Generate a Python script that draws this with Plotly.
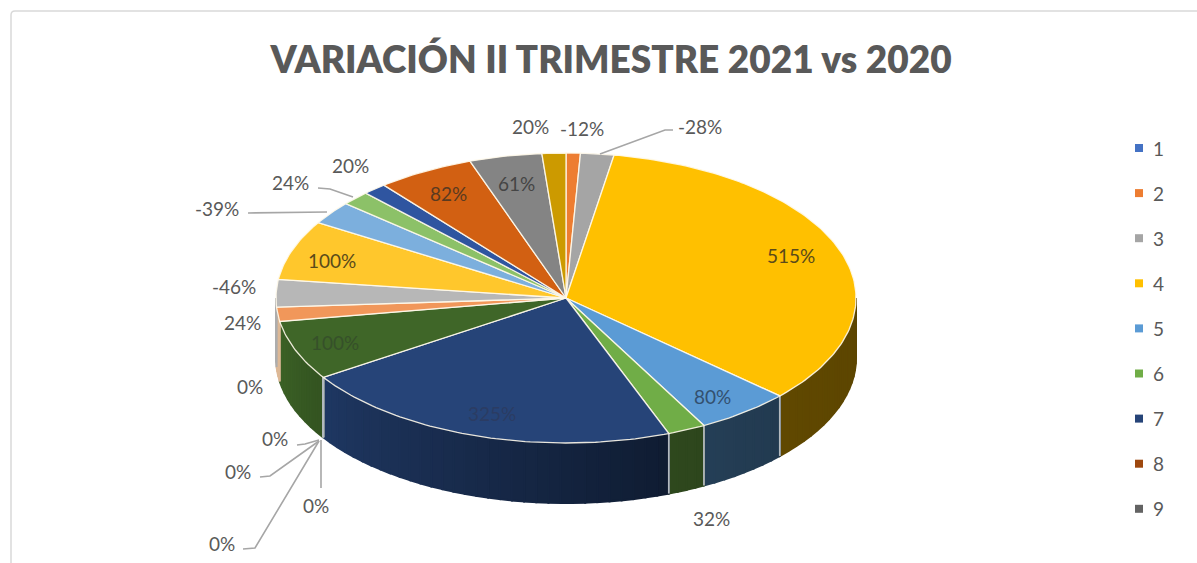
import numpy as np
import plotly.graph_objects as go

# ---------- data ----------
TITLE = "VARIACIÓN II TRIMESTRE 2021 vs 2020"
categories = list(range(1, 23))
variation_pct = [None, -12, -28, 515, 80, 32, 325, 0, 0, 0, 0, 100, 0, 24, -46, 100, -39, 24, 20, 82, 61, 20]
legend_categories = categories[:9]
slice_colors = ["#4472C4", "#ED7D31", "#A5A5A5", "#FFC000", "#5B9BD5", "#70AD47", "#264478", "#9E480E",
                "#636363", "#997300", "#255E91", "#3F6628", "#698ED0", "#F1975A", "#B7B7B7", "#FFC72C",
                "#7CAFDD", "#8CC168", "#2F55A0", "#D26012", "#848484", "#CC9A00"]

# ---------- layout (pixel frame of the figure) ----------
W, H = 1197, 563
CX, CY, RX, RY, DEPTH = 566, 298, 290, 145, 60
label_pos = {2: (582, 128), 3: (700, 126), 4: (791, 255), 5: (712, 396), 6: (711, 518), 7: (492, 413),
             8: (316, 505), 9: (275, 438), 10: (238, 471), 11: (222, 543), 12: (335, 342), 13: (250, 386),
             14: (242, 322), 15: (234, 286), 16: (332, 260), 17: (217, 208), 18: (290, 182), 19: (350, 165),
             20: (448, 193), 21: (516, 183), 22: (530, 126)}
label_colors = {7: "#2B3C63", 12: "#36502A", 4: "#5A4A1A", 5: "#33506F", 20: "#5A3A20", 21: "#454545", 16: "#5A4A1A"}
wall_override = {14: "#DDB896"}
leaders = [[(600, 154), (665, 130), (673, 130)],
           [(248, 213), (327, 212)],
           [(318, 188), (330, 189), (353, 197)],
           [(297, 445), (305, 444), (319, 440)],
           [(260, 477), (270, 476), (319, 441)],
           [(321, 440), (321, 488)],
           [(243, 549), (255, 548), (319, 441)]]
FONT = "Lato, 'Open Sans', sans-serif"


def rim(t, dy=0.0):
    r = np.radians(t)
    return CX + RX * np.sin(r), CY - RY * np.cos(r) + dy


def shade(color, f):
    c = np.array([int(color[i:i + 2], 16) for i in (1, 3, 5)]) * f
    return "rgb(%d,%d,%d)" % tuple(np.clip(c, 0, 255))


def wall_factor(t):
    return float(np.interp(t, [90, 135, 160, 237, 258, 270], [0.36, 0.38, 0.42, 0.82, 0.95, 0.95]))


sizes = np.array([abs(v) if v is not None else 0 for v in variation_pct], dtype=float)
edges = np.concatenate([[0], np.cumsum(sizes)]) * 360.0 / sizes.sum()

fig = go.Figure()
# side walls of the disc (visible in the front half only)
for i, color in enumerate(slice_colors):
    a, b = max(edges[i], 90), min(edges[i + 1], 270)
    if b <= a:
        continue
    cuts = np.linspace(a, b, max(2, int((b - a) / 2.5) + 2))
    for t0, t1 in zip(cuts[:-1], cuts[1:]):
        ts = np.linspace(t0, t1, 4)
        x0, y0 = rim(ts)
        x1, y1 = rim(ts[::-1], DEPTH)
        col = wall_override.get(categories[i]) or shade(color, wall_factor((t0 + t1) / 2))
        fig.add_trace(go.Scatter(x=np.r_[x0, x1, x0[0]], y=np.r_[y0, y1, y0[0]], mode="lines", fill="toself",
                                 fillcolor=col, line=dict(color=col, width=2),
                                 hoverinfo="skip", showlegend=False))
# separators on the wall
for t in edges[1:-1]:
    if 90 < t < 250:
        x0, y0 = rim(t)
        fig.add_trace(go.Scatter(x=[x0, x0], y=[y0, y0 + DEPTH], mode="lines",
                                 line=dict(color="#B4BABF", width=1.8), hoverinfo="skip", showlegend=False))
# top surface
for i, color in enumerate(slice_colors):
    if sizes[i] == 0:
        continue
    ts = np.linspace(edges[i], edges[i + 1], max(3, int(edges[i + 1] - edges[i]) + 2))
    x, y = rim(ts)
    fig.add_trace(go.Scatter(x=np.r_[CX, x, CX], y=np.r_[CY, y, CY], mode="lines", fill="toself",
                             fillcolor=color, line=dict(color="rgba(255,250,235,0.9)", width=1.3),
                             hoverinfo="skip", showlegend=False, name=str(categories[i])))
# leader lines
lx, ly = [], []
for seg in leaders:
    lx += [p[0] for p in seg] + [None]
    ly += [p[1] for p in seg] + [None]
fig.add_trace(go.Scatter(x=lx, y=ly, mode="lines", line=dict(color="#A6A6A6", width=1.6),
                         hoverinfo="skip", showlegend=False))
# legend drawn on the same frame
leg_y = [148 + 45.1 * k for k in range(len(legend_categories))]
fig.add_trace(go.Scatter(x=[1139] * len(leg_y), y=leg_y, mode="markers",
                         marker=dict(symbol="square", size=8, color=slice_colors[:len(leg_y)]),
                         hoverinfo="skip", showlegend=False))
annotations = []
for k, y in zip(legend_categories, leg_y):
    annotations.append(dict(x=1151, y=y, text=str(k), xanchor="left", yanchor="middle", showarrow=False,
                            font=dict(family=FONT, size=19, color="#595959")))
# value labels
for i, v in enumerate(variation_pct):
    if v is None:
        continue
    x, y = label_pos[categories[i]]
    annotations.append(dict(x=x, y=y, text=f"{v}%", xanchor="center", yanchor="middle", showarrow=False,
                            font=dict(family=FONT, size=19, color=label_colors.get(categories[i], "#595959"))))

frame = dict(type="path", path="M 11 563 L 11 15 Q 11 11 15 11 L 1197 11", line=dict(color="#D9D9D9", width=1.5))
fig.update_layout(
    width=W, height=H, margin=dict(l=0, r=0, t=0, b=0), autosize=False,
    paper_bgcolor="white", plot_bgcolor="white", showlegend=False,
    title=dict(text=TITLE, x=611 / W, y=1 - 60 / H, xanchor="center", yanchor="middle",
               font=dict(family=FONT, size=37, color="#595959", weight=800)),
    xaxis=dict(range=[0, W], visible=False, fixedrange=True),
    yaxis=dict(range=[H, 0], visible=False, fixedrange=True),
    annotations=annotations, shapes=[frame],
)
fig.write_html("out.html", config={"displayModeBar": False},
               post_script="document.body.style.margin='0';")
